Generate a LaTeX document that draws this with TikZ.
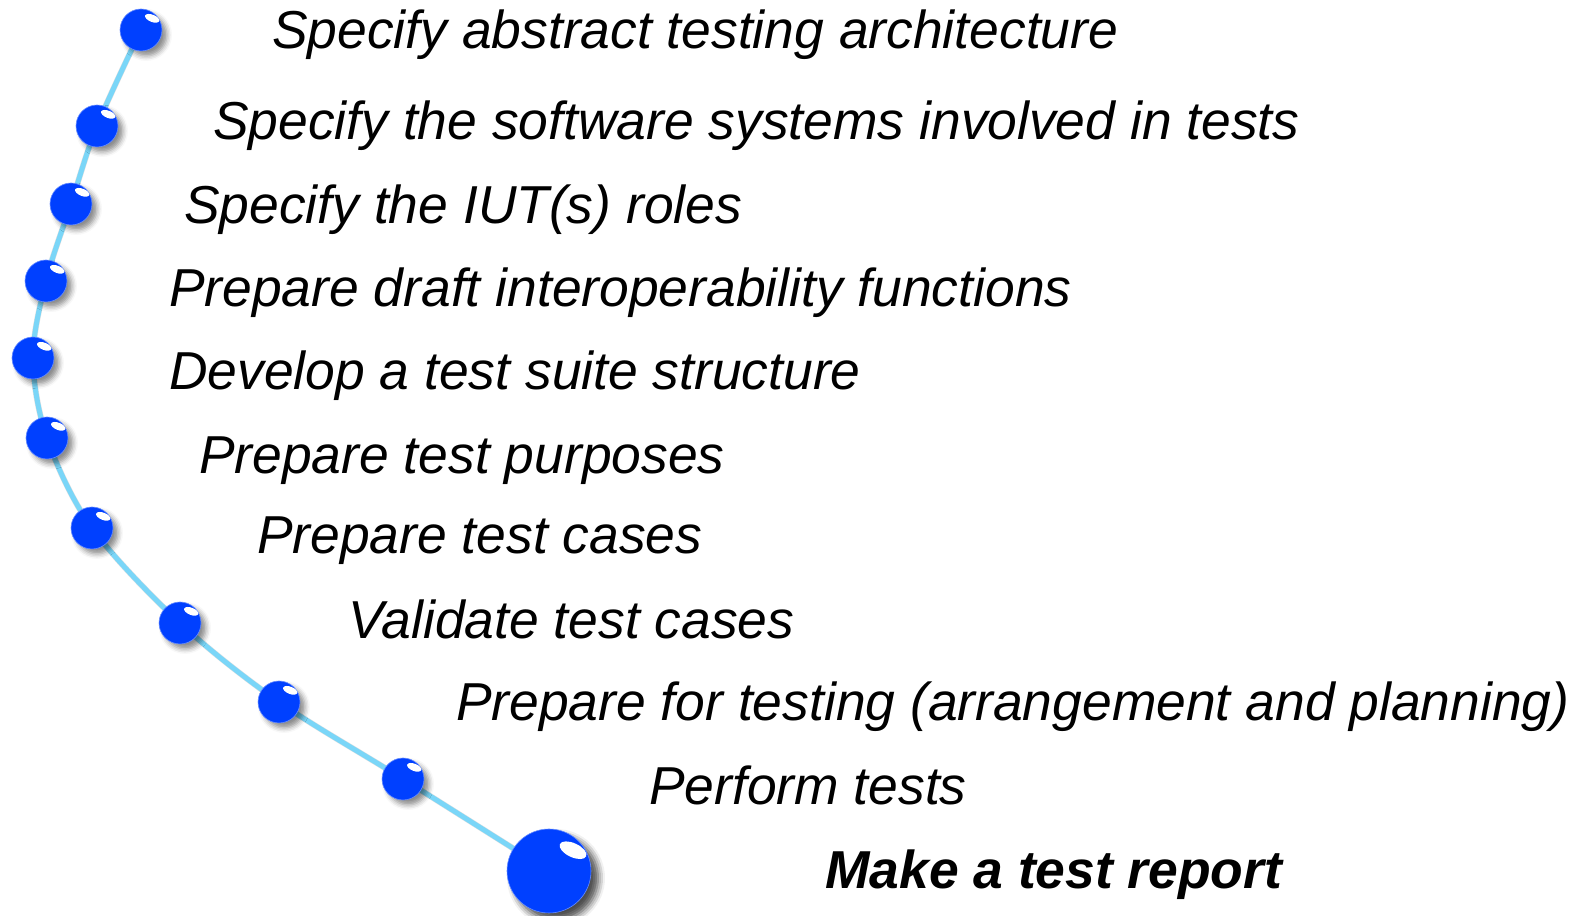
\documentclass[tikz,border=0pt]{standalone}
\usepackage{fontspec}
\setmainfont{Liberation Sans}
\usetikzlibrary{shadows.blur}
\definecolor{pinblue}{RGB}{0,64,255}
\definecolor{trail}{RGB}{122,214,248}
\begin{document}
\begin{tikzpicture}[x=1pt,y=1pt,
  ball/.style={circle, fill=pinblue, draw=pinblue!60!white, line width=0.6pt,
    minimum size=42pt, inner sep=0pt,
    blur shadow={shadow xshift=5pt, shadow yshift=-5pt,
      shadow blur radius=5pt, shadow opacity=45}},
  bigball/.style={ball, minimum size=84pt,
    blur shadow={shadow xshift=7pt, shadow yshift=-7pt,
      shadow blur radius=7pt, shadow opacity=45}},
  steplabel/.style={anchor=base west, inner sep=0pt,
    font=\fontsize{53.4}{60}\selectfont\itshape},
  finallabel/.style={steplabel, font=\fontsize{53.4}{60}\selectfont\bfseries\itshape},
  trailline/.style={draw=trail, line width=5pt, line cap=round},
  gloss/.style={fill=white}
]
\useasboundingbox (0,0) rectangle (1581,915);

% centres of the pins along the path
\coordinate (c1) at (141,885);
\coordinate (c2) at (97,789);
\coordinate (c3) at (71,711);
\coordinate (c4) at (46,634);
\coordinate (c5) at (33,557);
\coordinate (c6) at (47,477);
\coordinate (c7) at (92,387);
\coordinate (c8) at (180,292);
\coordinate (c9) at (279,213);
\coordinate (c10) at (403,136);
\coordinate (c11) at (549,44);

% faint shadow of the trail, then the trail itself
\draw[draw=black, opacity=0.12, line width=6pt, shift={(4pt,-4pt)}]
  plot[smooth, tension=0.55] coordinates {(c1) (c2) (c3) (c4) (c5) (c6) (c7) (c8) (c9) (c10) (c11)};
\draw[trailline]
  plot[smooth, tension=0.55] coordinates {(c1) (c2) (c3) (c4) (c5) (c6) (c7) (c8) (c9) (c10) (c11)};

% pins with their glossy highlight
\foreach \i in {1,...,10} {
  \node[ball] (b\i) at (c\i) {};
  \fill[gloss, rotate around={-22:($(c\i)+(6,15)$)}] ($(c\i)+(6,15)$) ellipse [x radius=7.5, y radius=3.6];
}
\node[bigball] (b11) at (c11) {};
\fill[gloss, rotate around={-25:($(c11)+(13,29)$)}] ($(c11)+(13,29)$) ellipse [x radius=14.5, y radius=7];

% step labels
\node[steplabel] (t1) at (272,866) {Specify abstract testing architecture};
\node[steplabel] (t2) at (213,775) {Specify the software systems involved in tests};
\node[steplabel] (t3) at (184,691) {Specify the IUT(s) roles};
\node[steplabel] (t4) at (169,608) {Prepare draft interoperability functions};
\node[steplabel] (t5) at (169,525) {Develop a test suite structure};
\node[steplabel] (t6) at (199,441) {Prepare test purposes};
\node[steplabel] (t7) at (257,361) {Prepare test cases};
\node[steplabel] (t8) at (348,276) {Validate test cases};
\node[steplabel] (t9) at (456,194) {Prepare for testing (arrangement and planning)};
\node[steplabel] (t10) at (649,110) {Perform tests};
\node[finallabel] (t11) at (825,27) {Make a test report};
\end{tikzpicture}
\end{document}
